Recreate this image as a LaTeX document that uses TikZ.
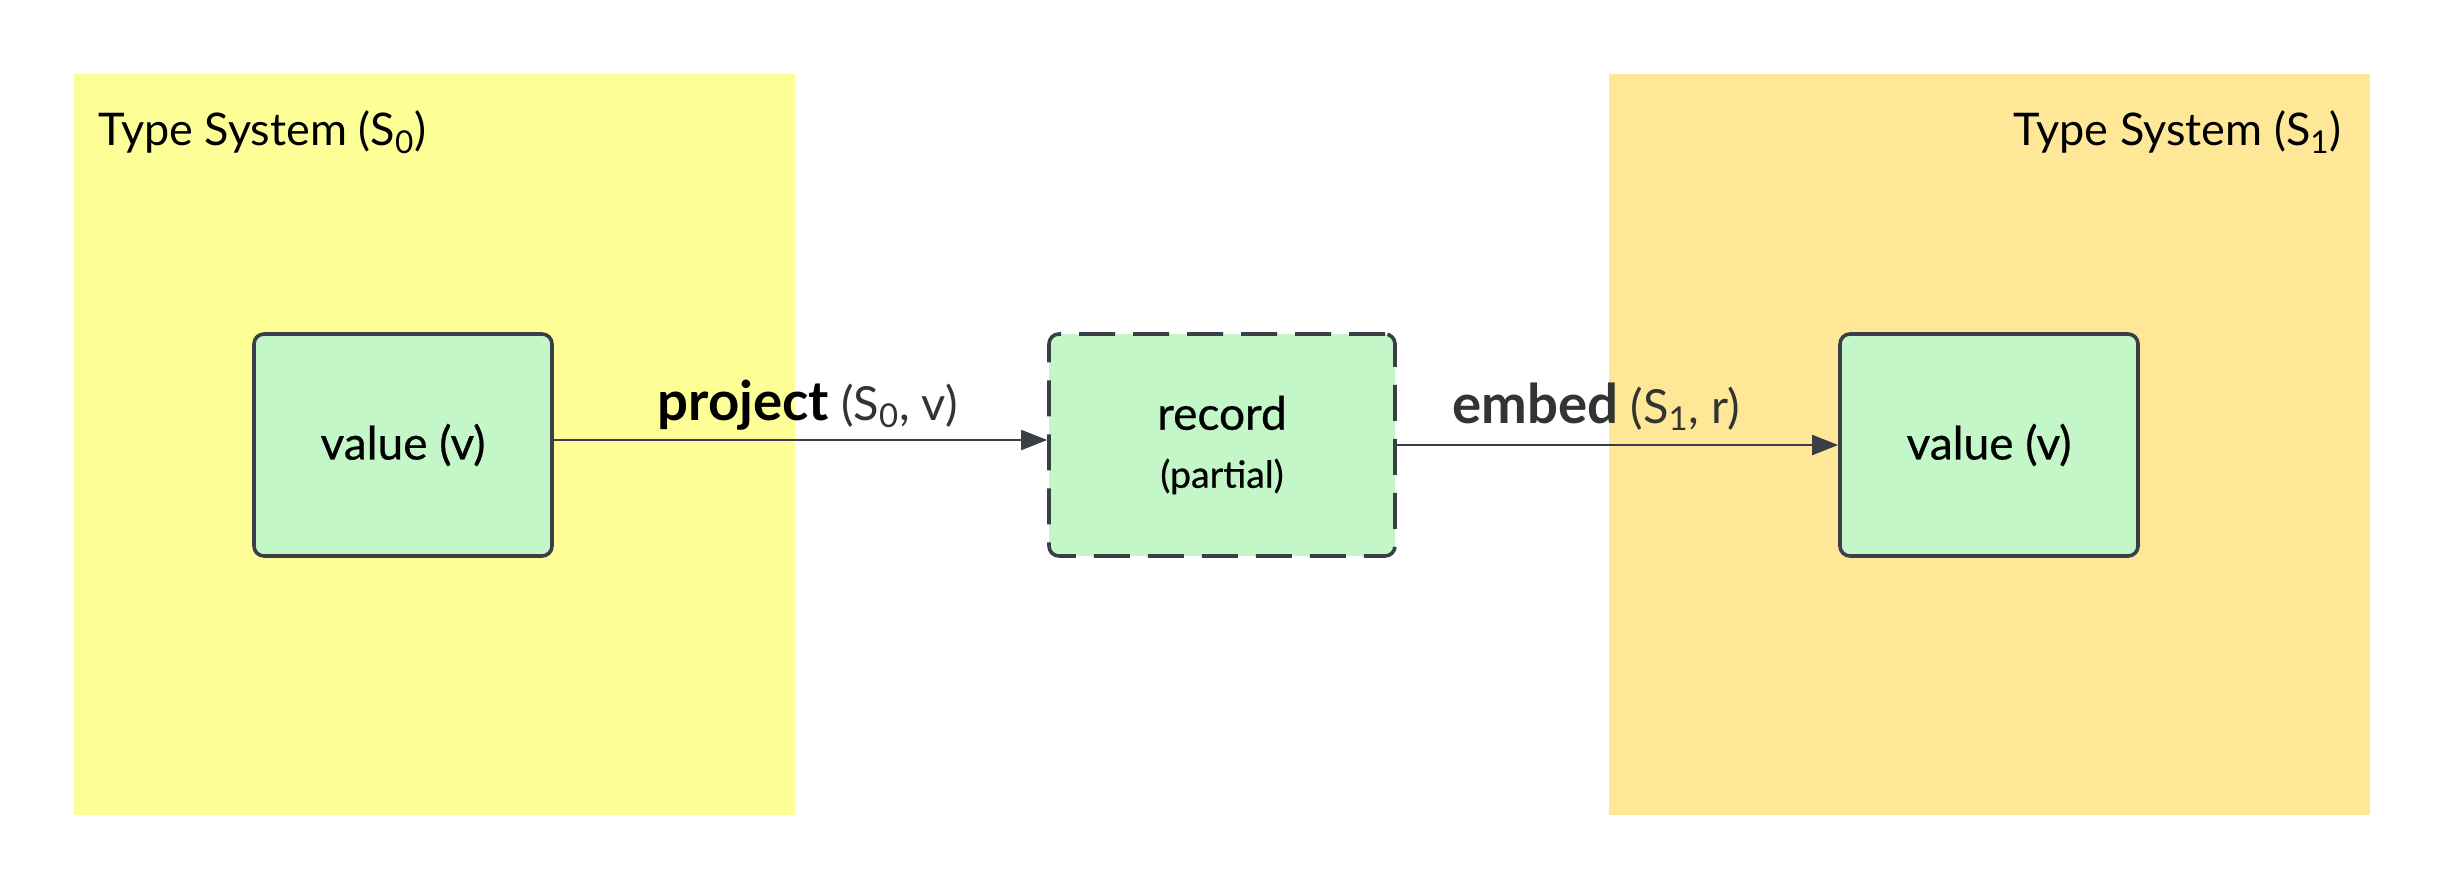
\documentclass[tikz,border=0pt]{standalone}
\usepackage{fontspec}
\setmainfont{Lato}
\newfontfamily\medfont{Lato}[FakeBold=0.6]
\usetikzlibrary{arrows.meta}
\definecolor{ylwA}{HTML}{FEFE97}
\definecolor{ylwB}{HTML}{FEE898}
\definecolor{boxgreen}{HTML}{C3F7C8}
\definecolor{edgecol}{HTML}{3A3F47}
\definecolor{lblgray}{HTML}{333333}
\begin{document}
\begin{tikzpicture}[x=0.5pt,y=-0.5pt,
  valbox/.style={draw=edgecol, fill=boxgreen, line width=1.8pt, rounded corners=5pt,
    minimum width=149pt, minimum height=111pt, inner sep=0pt,
    font=\medfont\fontsize{23}{27}\selectfont},
  recbox/.style={valbox, minimum width=173pt, dash pattern=on 18pt off 9pt, align=center},
  title/.style={inner sep=0pt, font=\fontsize{22.5}{27}\selectfont},
  elabel/.style={inner sep=0pt, anchor=base west, font=\fontsize{23.5}{27}\selectfont},
  conn/.style={draw=edgecol, line width=1pt, -{Triangle[length=13pt,width=10pt]}}
]
\useasboundingbox (0,0) rectangle (2445,891);
\fill[white] (0,0) rectangle (2445,891);
% zones
\fill[ylwA] (74,74) rectangle (795,815);
\fill[ylwB] (1609,74) rectangle (2370,815);
% titles
\node[title, anchor=base west] (t0) at (98,145) {Type System (S\textsubscript{0})};
\node[title, anchor=base east] (t1) at (2342,145) {Type System (S\textsubscript{1})};
% boxes
\node[valbox] (v0) at (403,445) {value (v)};
\node[recbox] (rec) at (1222,445) {record\\[2pt]{\fontsize{18.7}{21}\selectfont (partial)}};
\node[valbox] (v1) at (1989,445) {value (v)};
% connectors
\draw[conn] ([yshift=2.5pt]v0.east) -- ([yshift=2.5pt]rec.west);
\draw[conn] (rec.east) -- (v1.west);
% labels
\node[elabel] (lp) at (657,420) {{\fontsize{27.3}{30}\selectfont\bfseries project} {\color{lblgray}(S\textsubscript{0}, v)}};
\node[elabel, text=lblgray] (le) at (1452,423) {{\fontsize{27.3}{30}\selectfont\bfseries embed} (S\textsubscript{1}, r)};
\end{tikzpicture}
\end{document}
